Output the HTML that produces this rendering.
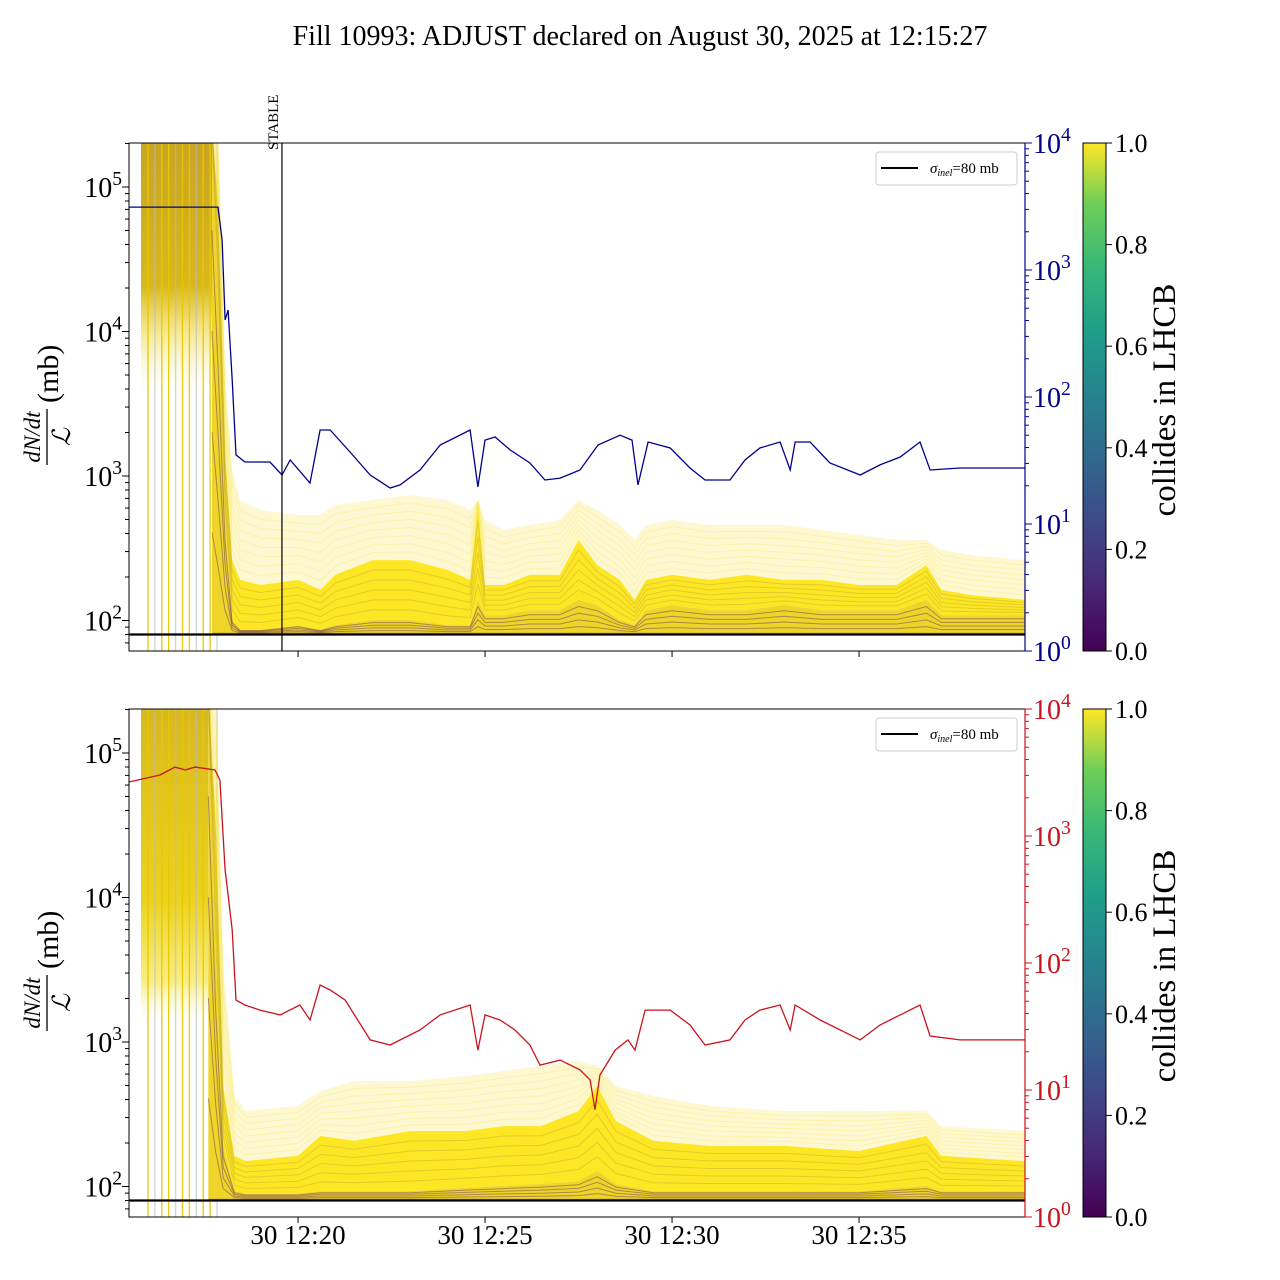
<!DOCTYPE html>
<html><head><meta charset="utf-8">
<style>
html,body{margin:0;padding:0;background:#fff;}
svg{display:block;font-family:"Liberation Serif",serif;}
</style></head>
<body>
<svg id="chart" width="1280" height="1280" viewBox="0 0 1280 1280" xmlns="http://www.w3.org/2000/svg">
<defs>
<linearGradient id="viridis" x1="0" y1="1" x2="0" y2="0">
<stop offset="0" stop-color="#440154"/><stop offset="0.13" stop-color="#482878"/>
<stop offset="0.25" stop-color="#3e4989"/><stop offset="0.38" stop-color="#31688e"/>
<stop offset="0.5" stop-color="#26828e"/><stop offset="0.63" stop-color="#1f9e89"/>
<stop offset="0.75" stop-color="#35b779"/><stop offset="0.88" stop-color="#6ece58"/>
<stop offset="1" stop-color="#fde725"/></linearGradient>
<linearGradient id="blockTop" x1="0" y1="0" x2="0" y2="1">
<stop offset="0" stop-color="#c9a521"/><stop offset="0.55" stop-color="#d9b81c"/>
<stop offset="0.75" stop-color="#f3df5c" stop-opacity="0.6"/><stop offset="1" stop-color="#fff" stop-opacity="0"/></linearGradient>
<linearGradient id="blockBot" x1="0" y1="0" x2="0" y2="1">
<stop offset="0" stop-color="#d8b820"/><stop offset="0.6" stop-color="#ecd21c"/>
<stop offset="0.85" stop-color="#f6e54a" stop-opacity="0.7"/><stop offset="1" stop-color="#fff" stop-opacity="0"/></linearGradient>
<clipPath id="clipTop"><rect x="129" y="143" width="896" height="508"/></clipPath>
<clipPath id="clipBot"><rect x="129" y="709" width="896" height="508"/></clipPath>
</defs>
<text x="640" y="45" font-size="28" text-anchor="middle">Fill 10993: ADJUST declared on August 30, 2025 at 12:15:27</text>
<g id="top"></g>
<g id="bot"></g>
</svg>
<script>
// ---- data (minutes after 12:00) ----
const blueT = [15.48,17.86,17.97,18.05,18.13,18.24,18.34,18.58,19.25,19.57,19.79,20.32,20.59,20.86,21.39,21.93,22.46,22.73,23.26,23.80,24.60,24.81,25.00,25.27,25.67,26.20,26.60,27.01,27.54,28.02,28.61,28.93,29.09,29.36,29.95,30.48,30.88,31.55,31.95,32.35,32.89,33.16,33.29,33.69,34.22,35.03,35.56,36.10,36.63,36.90,37.70,39.44];
const blueV = [3130,3130,1720,404,484,136,35,30.8,30.8,24.3,31.9,21,55,55,36.9,24.3,19.2,20.3,26.6,41.9,55,19.6,45.8,48.4,38.3,30.2,22.2,23,26.6,41.9,50,45.8,20.3,44.2,39.7,27.6,22.2,22.2,31.9,39.7,44.2,26.6,44.2,44.2,30.2,24.3,29.2,33.7,44.2,26.6,27.6,27.6];
const redT = [15.48,16.31,16.71,16.98,17.25,17.78,17.91,18.05,18.13,18.24,18.34,18.58,18.98,19.52,20.05,20.32,20.59,20.86,21.26,21.93,22.46,23.26,23.80,24.60,24.81,25.00,25.40,25.80,26.20,26.47,27.01,27.54,27.81,27.94,28.07,28.48,28.82,29.01,29.28,29.95,30.48,30.88,31.55,31.95,32.35,32.89,33.16,33.29,33.96,35.03,35.56,36.10,36.63,36.90,37.70,39.44];
const redV = [2660,3020,3490,3310,3490,3310,2760,540,343,182,51,46.7,42.6,39,46.7,35.6,67,61.3,51,24.8,22.6,29.7,39,46.7,20.6,39,35.6,29.7,22.6,15.7,17.2,14.4,12,7,13.1,20.6,24.8,20.6,42.6,42.6,32.5,22.6,24.8,35.6,42.6,46.7,29.7,46.7,35.6,24.8,32.5,39,46.7,26.6,24.8,24.8];
// yellow envelopes, top panel (after the pre-stable block)
const envTopT = [17.70,17.86,18.05,18.24,18.45,19.0,20.0,20.6,21.0,22.0,23.0,24.0,24.6,24.81,25.0,25.5,26.2,27.0,27.5,28.0,28.6,29.0,29.3,30.0,31.0,32.0,33.0,34.0,35.0,36.0,36.8,37.2,38.0,39.44];
const upperTop = [250000,250000,4610,1100,682,582,537,537,630,682,740,682,582,682,497,423,458,497,682,582,458,361,458,497,458,458,458,423,391,361,361,308,284,262];
const denseTop = [250000,81300,1510,262,191,176,191,163,207,262,262,224,191,630,176,176,207,207,361,242,191,139,191,207,191,207,191,191,176,176,242,163,150,139];
const darkTop = [250000,16500,497,101,86,86,93,86,93,101,101,93,93,139,109,109,118,118,139,128,101,93,118,128,118,118,128,118,118,118,139,109,109,109];
// yellow envelopes, bottom panel
const envBotT = [17.60,17.80,18.0,18.3,18.6,20.0,20.6,21.5,23.0,24.5,25.5,26.5,27.5,28.0,28.5,29.5,31.0,33.0,35.0,36.8,37.2,39.44];
const upperBot = [250000,250000,3360,423,333,361,458,537,537,582,630,682,740,682,497,423,361,333,333,333,262,242];
const denseBot = [250000,36600,497,163,150,163,224,207,242,242,262,262,333,497,284,207,191,191,176,224,163,150];
const darkBot = [250000,3360,191,93,89,89,93,93,93,98,101,104,109,128,104,93,93,93,93,101,93,93];
const sigmaInel = 80;
const xTickLabels = ["30 12:20","30 12:25","30 12:30","30 12:35"];
const xTickMin = [20,25,30,35];
const cbTicks = ["0.0","0.2","0.4","0.6","0.8","1.0"];

// ---- scales ----
const X0=129, X1=1025, T0=15.48, PXM=37.4;
const xS = t => X0 + (t - T0) * PXM;
const yL = (v, off) => off + 187 - (Math.log10(v) - 5) * 144.5;
const yR = (v, off) => off + 651 - Math.log10(v) * 127;
const NS = "http://www.w3.org/2000/svg";
function mk(tag, attrs, parent){const e=document.createElementNS(NS,tag);for(const k in attrs)e.setAttribute(k,attrs[k]);parent.appendChild(e);return e;}
function linePts(ts, vs, f){return ts.map((t,i)=>xS(t).toFixed(1)+","+f(vs[i]).toFixed(1)).join(" ");}
function bandPts(ts, a, b, f){
  const up=ts.map((t,i)=>xS(t).toFixed(1)+","+f(a[i]).toFixed(1));
  const dn=ts.map((t,i)=>xS(t).toFixed(1)+","+f(b[i]).toFixed(1)).reverse();
  return up.concat(dn).join(" ");
}
function sup(parent, x, y, exp, color, anchor, size){
  const t=mk("text",{x:x,y:y,"font-size":size,fill:color,"text-anchor":anchor},parent);
  t.appendChild(document.createTextNode("10"));
  const s=mk("tspan",{dy:-12,"font-size":size*0.7},t); s.textContent=exp;
  return t;
}

function panel(g, off, envT, upper, dense, dark, lineT, lineV, lineColor, clipId, blockFill, showXLabels){
  const top=143+off, bot=651+off;
  const f = v => yL(v, off);
  const data = mk("g",{"clip-path":"url(#"+clipId+")"},g);
  const blk = mk("rect",{x:141,y:top,width:xS(envT[0])-141,height:(off? 320:260),fill:"url(#"+blockFill+")"},data);
  
  
  for(let i=0;i<11;i++){
    const x=148+i*6.9;
    const vl=mk("line",{x1:x,x2:x,y1:top,y2:bot,stroke:i%3===1?"#bbb":"#e8c800","stroke-width":1.4,opacity:i%3===1?0.6:0.9},data);
    
    
  }
  const fb=mk("polygon",{points:bandPts(envT,upper,dense,f),fill:"#fbe96a",opacity:0.3},data);
  
  
  for(let k=1;k<8;k++){
    const vs=envT.map((t,i)=>Math.pow(10,Math.log10(dense[i])+(Math.log10(upper[i])-Math.log10(dense[i]))*k/8));
    mk("polyline",{points:linePts(envT,vs,f),fill:"none",stroke:"#f7e34a","stroke-width":1,opacity:0.3},data);
  }
  const db=mk("polygon",{points:bandPts(envT,dense,dark,f),fill:"#fde725"},data);
  
  
  const bottomV=envT.map(()=>sigmaInel*1.02);
  const dk=mk("polygon",{points:bandPts(envT,dark,bottomV,f),fill:"#efd52a"},data);
  
  
  for(let k=1;k<6;k++){
    const vs=envT.map((t,i)=>Math.pow(10,Math.log10(dark[i])+(Math.log10(dense[i])-Math.log10(dark[i]))*k/6));
    mk("polyline",{points:linePts(envT,vs,f),fill:"none",stroke:"#b59a30","stroke-width":1,opacity:0.35},data);
  }
  for(let k=0;k<5;k++){
    const vs=envT.map((t,i)=>Math.pow(10,Math.log10(sigmaInel*1.02)+(Math.log10(dark[i])-Math.log10(sigmaInel*1.02))*k/5));
    mk("polyline",{points:linePts(envT,vs,f),fill:"none",stroke:"#5a2a60","stroke-width":1,opacity:0.45},data);
  }
  const sl=mk("line",{x1:X0,x2:X1,y1:f(sigmaInel),y2:f(sigmaInel),stroke:"#000","stroke-width":2.2},data);
  
  
  const rl=mk("polyline",{points:linePts(lineT,lineV,v=>yR(v,off)),fill:"none",stroke:lineColor,"stroke-width":1.3},data);
  
  
  const fr=mk("rect",{x:X0,y:top,width:X1-X0,height:508,fill:"none",stroke:"#000","stroke-width":1},g);
  
  
  for(let e=1;e<=5;e++){
    for(let m=1;m<10;m++){
      const v=m*Math.pow(10,e); const y=f(v);
      if(y<top-0.5||y>bot+0.5)continue;
      mk("line",{x1:X0,x2:X0-(m===1?7:4),y1:y,y2:y,stroke:"#000","stroke-width":1},g);
    }
    const y=f(Math.pow(10,e));
    if(y>=top&&y<=bot){const t=sup(g,122,y+10,String(e),"#000","end",28);
      
      }
  }
  for(let e=0;e<=4;e++){
    for(let m=1;m<10;m++){
      const v=m*Math.pow(10,e); const y=yR(v,off);
      if(y<top-0.5||y>bot+0.5)continue;
      mk("line",{x1:X1,x2:X1+(m===1?7:4),y1:y,y2:y,stroke:lineColor,"stroke-width":1},g);
    }
    const t=sup(g,1033,yR(Math.pow(10,e),off)+10,String(e),lineColor,"start",28);
    
    
  }
  mk("line",{x1:X1,x2:X1,y1:top,y2:bot,stroke:lineColor,"stroke-width":1.2},g);
  xTickMin.forEach((m,i)=>{
    const x=xS(m);
    mk("line",{x1:x,x2:x,y1:bot,y2:bot+6,stroke:"#000","stroke-width":1},g);
    if(showXLabels){const t=mk("text",{x:x,y:bot+27,"font-size":27,"text-anchor":"middle"},g);t.textContent=xTickLabels[i];
      
      }
  });
  const yl=mk("g",{transform:"translate(50,"+(405+off)+") rotate(-90)"},g);
  
  
  const num=mk("text",{x:-32,y:-10,"font-size":23,"font-style":"italic","text-anchor":"middle"},yl);num.textContent="dN/dt";
  mk("line",{x1:-60,x2:-4,y1:-3,y2:-3,stroke:"#000","stroke-width":1.3},yl);
  const den=mk("text",{x:-32,y:20,"font-size":25,"font-style":"italic","text-anchor":"middle"},yl);den.textContent="ℒ";
  const mb=mk("text",{x:2,y:8,"font-size":30},yl);mb.textContent="(mb)";
  const lg=mk("g",{},g);
  
  
  mk("rect",{x:876,y:152+off,width:141,height:33,rx:3,fill:"#fff",stroke:"#ccc","stroke-width":1},lg);
  mk("line",{x1:881,x2:918,y1:168+off,y2:168+off,stroke:"#000","stroke-width":2},lg);
  const lt=mk("text",{x:930,y:173+off,"font-size":15},lg);
  const s1=mk("tspan",{"font-style":"italic"},lt);s1.textContent="σ";
  const s2=mk("tspan",{"font-style":"italic","font-size":10,dy:3},lt);s2.textContent="inel";
  const s3=mk("tspan",{dy:-3},lt);s3.textContent="=80 mb";
  const cb=mk("rect",{x:1083,y:top,width:23,height:508,fill:"url(#viridis)",stroke:"#000","stroke-width":1},g);
  
  
  cbTicks.forEach((lab,i)=>{
    const y=bot-i*508/5;
    mk("line",{x1:1106,x2:1112,y1:y,y2:y,stroke:"#000","stroke-width":1},g);
    const t=mk("text",{x:1115,y:y+9,"font-size":26},g);t.textContent=lab;
    
    
  });
  const cl=mk("text",{transform:"translate(1175,"+(400+off)+") rotate(-90)","font-size":33,"text-anchor":"middle"},g);
  cl.textContent="collides in LHCB";
  
  
}
const gt=document.getElementById("top"), gb=document.getElementById("bot");
panel(gt,0,envTopT,upperTop,denseTop,darkTop,blueT,blueV,"#00008b","clipTop","blockTop",false);
panel(gb,566,envBotT,upperBot,denseBot,darkBot,redT,redV,"#c8141e","clipBot","blockBot",true);
const stableT = 19.57;
const sx=xS(stableT);
const st=mk("line",{x1:sx,x2:sx,y1:143,y2:651,stroke:"#000","stroke-width":1.2},gt);


const stt=mk("text",{transform:"translate("+(sx-4)+",150) rotate(-90)","font-size":15},gt);
stt.textContent="STABLE";


</script>
</body></html>
